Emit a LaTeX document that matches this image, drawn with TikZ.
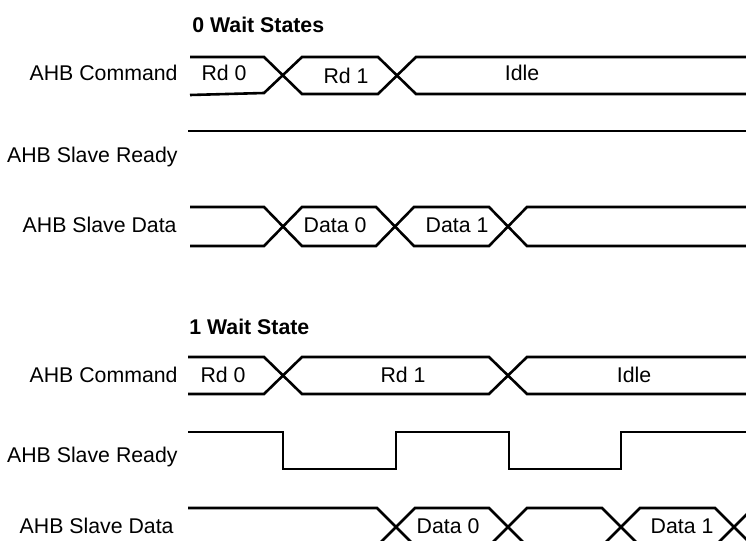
\documentclass[tikz,border=0pt]{standalone}
\usepackage{fontspec}
\setmainfont{Liberation Sans}
\usetikzlibrary{positioning}
\tikzset{
  wave/.style={line width=1.3pt, line join=miter},
  sig/.style={anchor=base east, inner sep=0pt, font=\fontsize{10.65}{12}\selectfont},
  val/.style={anchor=base, inner sep=0pt, font=\fontsize{10.65}{12}\selectfont},
  ttl/.style={anchor=base west, inner sep=0pt, font=\fontsize{10.65}{12}\selectfont\bfseries}
}
\begin{document}
\begin{tikzpicture}[x=0.5pt,y=-0.5pt]
\clip (0,0) rectangle (746,541);
% 0 wait states
\node[ttl] (titleA) at (192,32) {0 Wait States};
\node[sig] (cmdA) at (178,80) {AHB Command};
\node[sig] (rdyA) at (178,162) {AHB Slave Ready};
\node[sig] (datA) at (177,232) {AHB Slave Data};
\draw[wave] (190,57) -- (264,57) -- (302,94) -- (378,94) -- (416,57) -- (746,57);
\draw[wave] (190,95) -- (264,93) -- (302,57) -- (378,57) -- (416,94) -- (746,94);
\node[val] (rdA0) at (224,80) {Rd 0};
\node[val] (rdA1) at (346,83) {Rd 1};
\node[val] (idleA) at (522,80) {Idle};
\draw[wave] (188,131) -- (746,131);
\draw[wave] (190,207) -- (264,207) -- (302,246) -- (376,246) -- (414,207) -- (489,207) -- (527,246) -- (746,246);
\draw[wave] (190,246) -- (264,246) -- (302,207) -- (376,207) -- (414,246) -- (489,246) -- (527,207) -- (746,207);
\node[val] (dA0) at (335,232) {Data 0};
\node[val] (dA1) at (457,232) {Data 1};
% 1 wait state
\node[ttl] (titleB) at (189,334) {1 Wait State};
\node[sig] (cmdB) at (178,382) {AHB Command};
\node[sig] (rdyB) at (178,462) {AHB Slave Ready};
\node[sig] (datB) at (174,533) {AHB Slave Data};
\draw[wave] (188,357) -- (264,357) -- (302,394) -- (489,394) -- (527,357) -- (746,357);
\draw[wave] (188,394) -- (264,394) -- (302,357) -- (489,357) -- (527,394) -- (746,394);
\node[val] (rdB0) at (223,382) {Rd 0};
\node[val] (rdB1) at (403,382) {Rd 1};
\node[val] (idleB) at (634,382) {Idle};
\draw[wave] (188,432) -- (283,432) -- (283,469) -- (396,469) -- (396,432) -- (509,432) -- (509,469) -- (621,469) -- (621,432) -- (746,432);
\draw[wave] (188,508) -- (377,508) -- (415,546) -- (489,546) -- (527,508) -- (602,508) -- (640,546) -- (715,546) -- (753,508);
\draw[wave] (188,546) -- (377,546) -- (415,508) -- (489,508) -- (527,546) -- (602,546) -- (640,508) -- (715,508) -- (753,546);
\node[val] (dB0) at (448,533) {Data 0};
\node[val] (dB1) at (682,533) {Data 1};
\end{tikzpicture}
\end{document}
